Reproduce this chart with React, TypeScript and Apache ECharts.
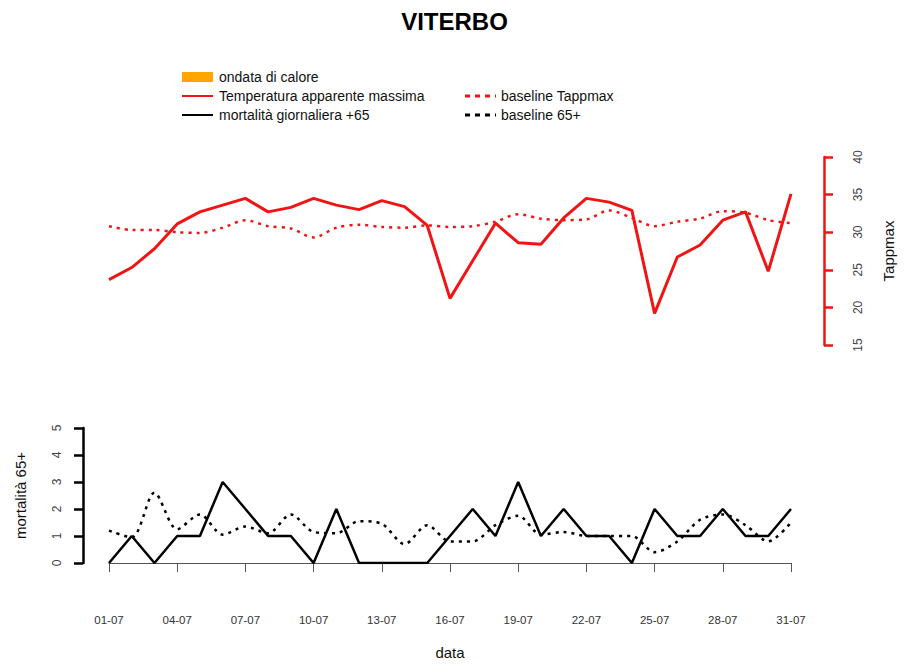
import React, { useEffect, useRef } from "react";
import * as echarts from "echarts";

const days = [
  "01-07", "02-07", "03-07", "04-07", "05-07", "06-07", "07-07", "08-07", "09-07", "10-07",
  "11-07", "12-07", "13-07", "14-07", "15-07", "16-07", "17-07", "18-07", "19-07", "20-07",
  "21-07", "22-07", "23-07", "24-07", "25-07", "26-07", "27-07", "28-07", "29-07", "30-07", "31-07",
];

const tappmax = [
  23.7, 25.3, 27.8, 31.1, 32.7, 33.6, 34.5, 32.7, 33.3, 34.5,
  33.6, 33.0, 34.2, 33.4, 30.9, 21.2, 26.2, 31.2, 28.6, 28.4,
  31.9, 34.5, 34.0, 32.9, 19.2, 26.7, 28.3, 31.6, 32.7, 24.8, 35.1,
];

const baselineTappmax = [
  30.8, 30.3, 30.3, 30.0, 29.9, 30.6, 31.6, 30.8, 30.5, 29.3,
  30.6, 31.0, 30.7, 30.6, 30.9, 30.7, 30.8, 31.4, 32.4, 31.8,
  31.6, 31.7, 32.9, 31.9, 30.8, 31.4, 31.8, 32.8, 32.6, 31.6, 31.2,
];

const mortality = [
  0, 1, 0, 1, 1, 3, 2, 1, 1, 0,
  2, 0, 0, 0, 0, 1, 2, 1, 3, 1,
  2, 1, 1, 0, 2, 1, 1, 2, 1, 1, 2,
];

const baseline65 = [
  1.2, 0.95, 2.6, 1.25, 1.8, 1.05, 1.35, 1.1, 1.8, 1.15,
  1.1, 1.55, 1.45, 0.7, 1.4, 0.8, 0.8, 1.4, 1.75, 1.05,
  1.15, 1.0, 1.0, 1.0, 0.4, 0.8, 1.6, 1.8, 1.4, 0.8, 1.5,
];

const tappTicks = [15, 40, 5];
const mortTicks = [0, 5, 1];

const RED = "#F01414";
const FONT = "Liberation Sans, Arial, sans-serif";

export default function App() {
  const ref = useRef<HTMLDivElement>(null);

  useEffect(() => {
    if (!ref.current) return;
    const chart = echarts.init(ref.current, undefined, { renderer: "svg" });
    const legendText = { fontSize: 14, fontFamily: FONT, fill: "#111" };
    chart.setOption({
      animation: false,
      backgroundColor: "#fff",
      textStyle: { fontFamily: FONT },
      title: {
        text: "VITERBO",
        left: "center",
        top: 4,
        textStyle: { fontSize: 24, fontWeight: "bold", color: "#000", fontFamily: FONT },
      },
      graphic: [
        { type: "rect", shape: { x: 182, y: 72, width: 31, height: 10 }, style: { fill: "#FFA500" } },
        { type: "text", x: 219, y: 77, style: { ...legendText, text: "ondata di calore", verticalAlign: "middle" } },
        { type: "line", shape: { x1: 182, y1: 96, x2: 213, y2: 96 }, style: { stroke: RED, lineWidth: 2 } },
        { type: "text", x: 219, y: 96, style: { ...legendText, text: "Temperatura apparente massima", verticalAlign: "middle" } },
        { type: "line", shape: { x1: 182, y1: 115, x2: 213, y2: 115 }, style: { stroke: "#000", lineWidth: 2 } },
        { type: "text", x: 219, y: 115, style: { ...legendText, text: "mortalità giornaliera +65", verticalAlign: "middle" } },
        { type: "line", shape: { x1: 465, y1: 96, x2: 496, y2: 96 }, style: { stroke: RED, lineWidth: 3, lineDash: [5, 5] } },
        { type: "text", x: 501, y: 96, style: { ...legendText, text: "baseline Tappmax", verticalAlign: "middle" } },
        { type: "line", shape: { x1: 465, y1: 115, x2: 496, y2: 115 }, style: { stroke: "#000", lineWidth: 3, lineDash: [5, 5] } },
        { type: "text", x: 501, y: 115, style: { ...legendText, text: "baseline 65+", verticalAlign: "middle" } },
      ],
      grid: [
        { left: 109, right: 118, top: 157, bottom: 325 },
        { left: 109, right: 118, top: 428, bottom: 107 },
      ],
      xAxis: [
        { type: "category", gridIndex: 0, data: days, boundaryGap: false, show: false },
        {
          type: "category",
          gridIndex: 1,
          data: days,
          boundaryGap: false,
          position: "bottom",
          offset: 24,
          axisLine: { show: true, lineStyle: { color: "#555", width: 1 } },
          axisTick: { show: true, interval: 2, length: 9, lineStyle: { color: "#555" } },
          axisLabel: {
            interval: 2,
            margin: 27,
            fontSize: 11.5,
            color: "#333",
            fontFamily: "Liberation Sans Narrow, Arial Narrow, Liberation Sans, sans-serif",
          },
          name: "data",
          nameLocation: "middle",
          nameGap: 58,
          nameTextStyle: { fontSize: 15, color: "#111", fontFamily: FONT },
          splitLine: { show: false },
        },
      ],
      yAxis: [
        {
          type: "value",
          gridIndex: 0,
          position: "right",
          offset: 33,
          min: tappTicks[0],
          max: tappTicks[1],
          interval: tappTicks[2],
          axisLine: { show: true, lineStyle: { color: RED, width: 2.5 } },
          axisTick: { show: true, length: 9, lineStyle: { color: RED, width: 2.5 } },
          axisLabel: { rotate: 90, margin: 28, fontSize: 12, color: "#444", fontFamily: FONT },
          splitLine: { show: false },
          name: "Tappmax",
          nameLocation: "middle",
          nameRotate: 90,
          nameGap: 57,
          nameTextStyle: { fontSize: 15, color: "#111", fontFamily: FONT },
        },
        {
          type: "value",
          gridIndex: 1,
          position: "left",
          offset: 26,
          min: mortTicks[0],
          max: mortTicks[1],
          interval: mortTicks[2],
          axisLine: { show: true, lineStyle: { color: "#000", width: 2.5 } },
          axisTick: { show: true, length: 9, lineStyle: { color: "#000", width: 2.5 } },
          axisLabel: { rotate: 90, margin: 20, fontSize: 12, color: "#444", fontFamily: FONT },
          splitLine: { show: false },
          name: "mortalità 65+",
          nameLocation: "middle",
          nameRotate: 90,
          nameGap: 55,
          nameTextStyle: { fontSize: 15, color: "#111", fontFamily: FONT },
        },
      ],
      series: [
        {
          name: "baseline Tappmax",
          type: "line",
          xAxisIndex: 0,
          yAxisIndex: 0,
          data: baselineTappmax,
          symbol: "none",
          smooth: 0.3,
          lineStyle: { color: RED, width: 2.5, type: [3, 5] },
        },
        {
          name: "Temperatura apparente massima",
          type: "line",
          xAxisIndex: 0,
          yAxisIndex: 0,
          data: tappmax,
          symbol: "none",
          lineStyle: { color: RED, width: 3 },
        },
        {
          name: "baseline 65+",
          type: "line",
          xAxisIndex: 1,
          yAxisIndex: 1,
          data: baseline65,
          symbol: "none",
          smooth: 0.3,
          lineStyle: { color: "#000", width: 2.5, type: [3, 5] },
        },
        {
          name: "mortalità giornaliera +65",
          type: "line",
          xAxisIndex: 1,
          yAxisIndex: 1,
          data: mortality,
          symbol: "none",
          lineStyle: { color: "#000", width: 2.5 },
        },
      ],
    });
    return () => chart.dispose();
  }, []);

  return <div ref={ref} style={{ width: 909, height: 670, margin: -8 }} />;
}
